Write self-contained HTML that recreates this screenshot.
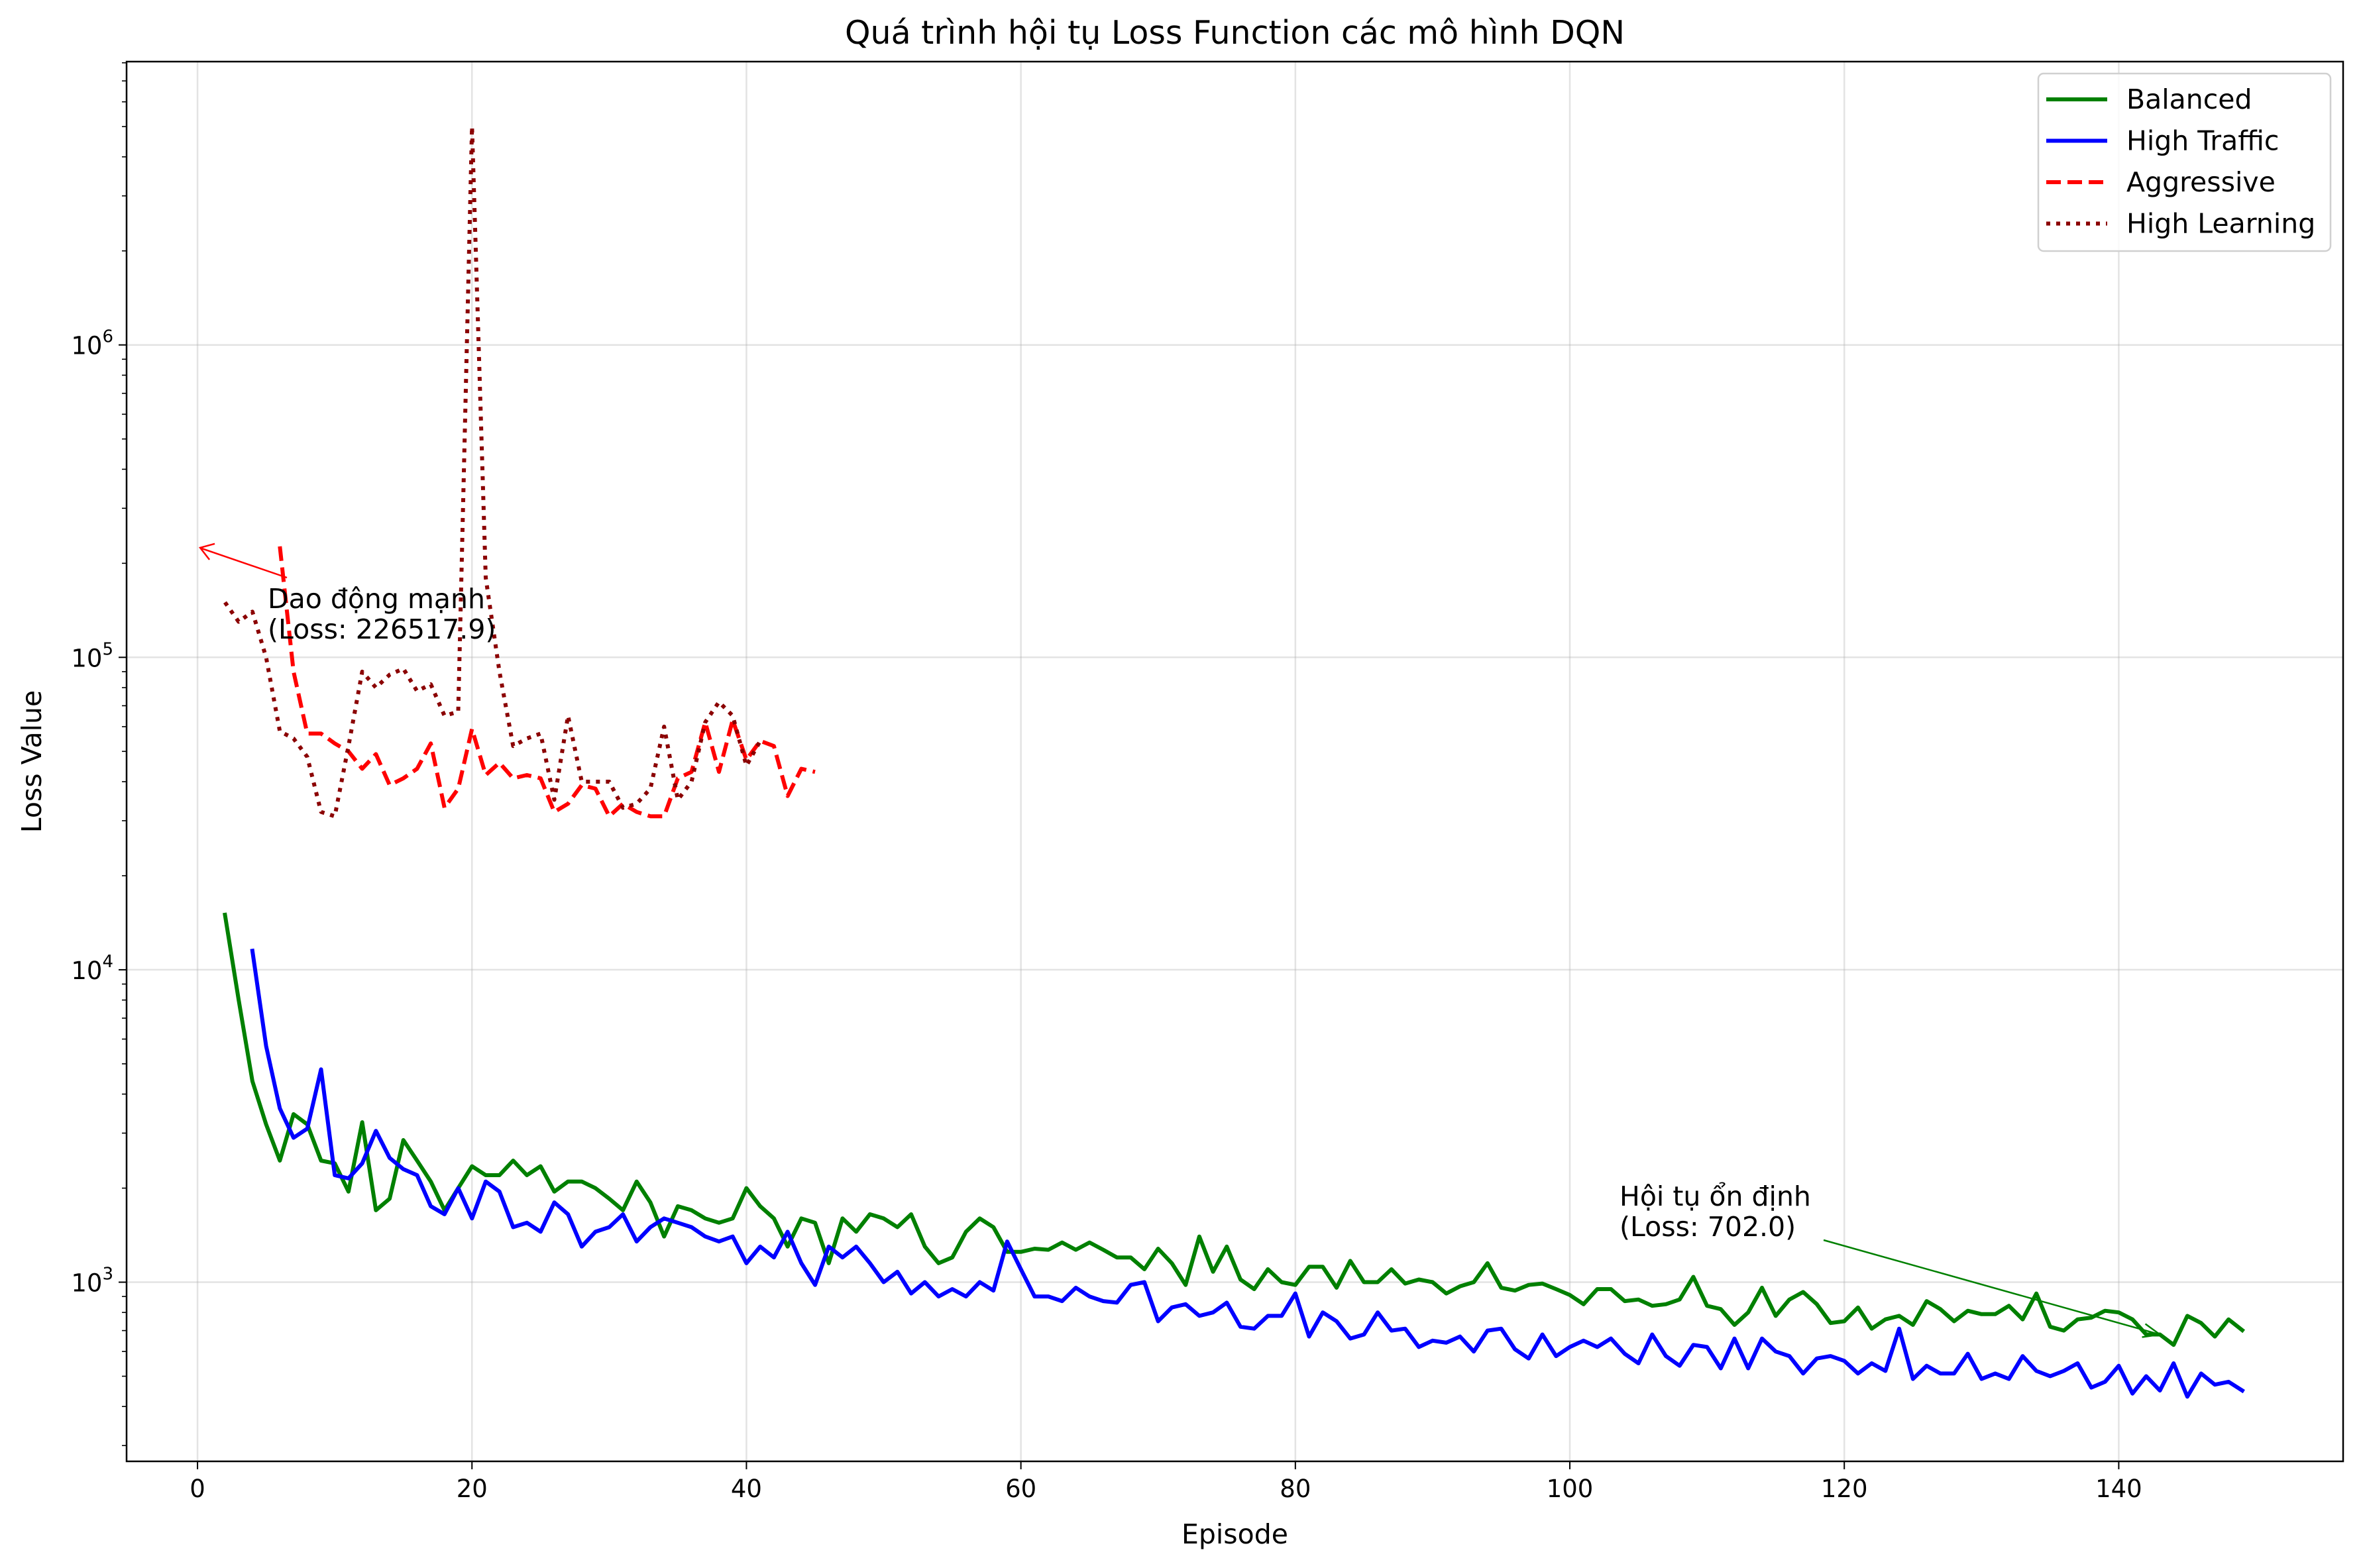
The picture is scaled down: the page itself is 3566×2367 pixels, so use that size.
<!DOCTYPE html>
<html><head><meta charset="utf-8"><style>
html,body{margin:0;padding:0;background:#fff}
svg{display:block;font-family:"DejaVu Sans","Liberation Sans",sans-serif}
</style></head><body>
<svg id="chart" width="3566" height="2367" viewBox="0 0 3566 2367" xmlns="http://www.w3.org/2000/svg">
<rect width="3566" height="2367" fill="#fff"/>
<g id="grid"></g><g id="series"></g><g id="axes"></g>
</svg>
<script>
const balancedStart = 2;
const balanced = [15000,8000,4400,3200,2450,3450,3200,2450,2400,1950,3250,1700,1850,2850,2450,2100,1700,2000,2350,2200,2200,2450,2200,2350,1950,2100,2100,2000,1850,1700,2100,1800,1400,1750,1700,1600,1550,1600,2000,1750,1600,1300,1600,1550,1150,1600,1450,1650,1600,1500,1650,1300,1150,1200,1450,1600,1500,1250,1250,1280,1270,1340,1270,1340,1270,1200,1200,1100,1280,1150,980,1400,1080,1300,1020,950,1100,1000,980,1120,1120,960,1170,1000,1000,1100,990,1020,1000,920,970,1000,1150,960,940,980,990,950,910,850,950,950,870,880,840,850,880,1040,840,820,730,800,960,780,880,930,850,740,750,830,710,760,780,730,870,820,750,810,790,790,840,760,920,720,700,760,770,810,800,760,680,680,630,780,740,670,760,702];
const trafficStart = 4;
const traffic = [11500,5700,3600,2900,3100,4800,2200,2150,2400,3050,2500,2300,2200,1750,1650,2000,1600,2100,1950,1500,1550,1450,1800,1650,1300,1450,1500,1650,1350,1500,1600,1550,1500,1400,1350,1400,1150,1300,1200,1450,1150,980,1300,1200,1300,1150,1000,1080,920,1000,900,950,900,1000,940,1350,1100,900,900,870,960,900,870,860,980,1000,750,830,850,780,800,860,720,710,780,780,920,670,800,750,660,680,800,700,710,620,650,640,670,600,700,710,610,570,680,580,620,650,620,660,590,550,680,580,540,630,620,530,660,530,660,600,580,510,570,580,560,510,550,520,710,490,540,510,510,590,490,510,490,580,520,500,520,550,460,480,540,440,500,450,550,430,510,470,480,450];
const aggressiveStart = 6;
const aggressive = [226518,90000,57000,57000,53000,50000,44000,49000,39000,41000,44000,53000,33000,38000,59000,42000,46000,41000,42000,41000,32000,34000,39000,38000,31000,34000,32000,31000,31000,41000,43000,62000,43000,63000,47000,54000,52000,36000,44000,43000];
const learningStart = 2;
const learning = [150000,130000,140000,100000,58000,55000,48000,32000,31000,52000,90000,80000,88000,92000,78000,82000,65000,67000,5000000,180000,90000,52000,55000,57000,35000,65000,40000,40000,40000,33000,34000,38000,60000,35000,40000,62000,72000,65000,45000,54000];
const xTicks = [0,20,40,60,80,100,120,140];
const yDecades = [3,4,5,6];

const L=191,R=3536,T=93,B=2206;
const XMIN=-5.17,XMAX=156.35,LMIN=Math.log10(267),LMAX=Math.log10(8.07e6);
const sx=v=>L+(v-XMIN)/(XMAX-XMIN)*(R-L);
const sy=v=>B-(Math.log10(v)-LMIN)/(LMAX-LMIN)*(B-T);
const NS="http://www.w3.org/2000/svg";
function mk(tag,attrs,parent){const e=document.createElementNS(NS,tag);for(const k in attrs)e.setAttribute(k,attrs[k]);parent.appendChild(e);return e;}
const grid=document.getElementById('grid'),ser=document.getElementById('series'),ax=document.getElementById('axes');

xTicks.forEach(t=>{
  const g=mk('line',{x1:sx(t),x2:sx(t),y1:T,y2:B,stroke:'#b0b0b0','stroke-opacity':0.35,'stroke-width':2.5},grid);
  
  
  const tk=mk('line',{x1:sx(t),x2:sx(t),y1:B,y2:B+12,stroke:'#000','stroke-width':2},ax);
  
  
  const tl=mk('text',{x:sx(t),y:B+54,'font-size':37,'text-anchor':'middle'},ax);
  tl.textContent=t;
  
  
});
yDecades.forEach(d=>{
  const y=sy(Math.pow(10,d));
  const g=mk('line',{x1:L,x2:R,y1:y,y2:y,stroke:'#b0b0b0','stroke-opacity':0.35,'stroke-width':2.5},grid);
  
  
  const tk=mk('line',{x1:L-12,x2:L,y1:y,y2:y,stroke:'#000','stroke-width':2},ax);
  
  
  const tl=mk('text',{x:L-20,y:y+14,'font-size':37,'text-anchor':'end'},ax);
  
  
  const a=mk('tspan',{},tl);a.textContent='10';
  const b=mk('tspan',{dy:-18,'font-size':26},tl);b.textContent=d;
});
for(let d=2;d<=6;d++){for(let m=2;m<=9;m++){const v=m*Math.pow(10,d);if(v<267||v>8.07e6)continue;const y=sy(v);
  const mt=mk('line',{x1:L-7,x2:L,y1:y,y2:y,stroke:'#000','stroke-width':1.6},ax);
  
  }}

function series(data,start,color,dash,name){
  const pts=data.map((v,i)=>sx(start+i).toFixed(1)+','+sy(v).toFixed(1)).join(' ');
  const p=mk('polyline',{points:pts,fill:'none',stroke:color,'stroke-width':6,'stroke-linejoin':'round','stroke-linecap':dash?'butt':'square'},ser);
  if(dash)p.setAttribute('stroke-dasharray',dash);
  
  
}
series(balanced,balancedStart,'#008000',null,'balanced-line');
series(traffic,trafficStart,'#0000ff',null,'high-traffic-line');
series(aggressive,aggressiveStart,'#ff0000','22 10','aggressive-line');
series(learning,learningStart,'#8b0000','6 9','high-learning-line');

const fr=mk('rect',{x:L,y:T,width:R-L,height:B-T,fill:'none',stroke:'#000','stroke-width':2.5},ax);


const ti=mk('text',{x:(L+R)/2,y:66,'font-size':49,'text-anchor':'middle'},ax);
ti.textContent='Quá trình hội tụ Loss Function các mô hình DQN';


const xl=mk('text',{x:(L+R)/2,y:2330,'font-size':41,'text-anchor':'middle'},ax);
xl.textContent='Episode';


const yl=mk('text',{x:62,y:(T+B)/2,'font-size':41,'text-anchor':'middle',transform:'rotate(-90 62 '+(T+B)/2+')'},ax);
yl.textContent='Loss Value';



const a1=mk('line',{x1:433,y1:872,x2:sx(0)+6,y2:sy(226518)+3,stroke:'#ff0000','stroke-width':2.5},ax);


const ah1=mk('path',{d:'M'+(sx(0)+26)+','+(sy(226518)-4)+' L'+(sx(0)+4)+','+(sy(226518)+2)+' L'+(sx(0)+18)+','+(sy(226518)+20),fill:'none',stroke:'#ff0000','stroke-width':2.5},ax);


const t1=mk('text',{x:404,y:918,'font-size':41},ax);


mk('tspan',{x:404},t1).textContent='Dao động mạnh';
mk('tspan',{x:404,dy:46},t1).textContent='(Loss: 226517.9)';
const ex=sx(143),ey=sy(680);
const a2=mk('line',{x1:2752,y1:1872,x2:ex,y2:ey,stroke:'#008000','stroke-width':2.5},ax);


const ah2=mk('path',{d:'M'+(ex-22)+','+(ey-16)+' L'+ex+','+ey+' L'+(ex-27)+','+(ey+4),fill:'none',stroke:'#008000','stroke-width':2.5},ax);


const t2=mk('text',{x:2444,y:1820,'font-size':41},ax);


mk('tspan',{x:2444},t2).textContent='Hội tụ ổn định';
mk('tspan',{x:2444,dy:46},t2).textContent='(Loss: 702.0)';

const lg=mk('g',{},ax);


mk('rect',{x:3076,y:111,width:441,height:268,rx:8,fill:'#fff','fill-opacity':0.8,stroke:'#d0d0d0','stroke-width':2.5},lg);
const legNames=['Balanced','High Traffic','Aggressive','High Learning'];
const legColors=['#008000','#0000ff','#ff0000','#8b0000'];
const legDash=[null,null,'22 10','6 9'];
legNames.forEach((n,i)=>{
  const y=150+i*62.5;
  const ln=mk('line',{x1:3088,x2:3180,y1:y,y2:y,stroke:legColors[i],'stroke-width':6},lg);
  if(legDash[i])ln.setAttribute('stroke-dasharray',legDash[i]);
  
  
  const tx=mk('text',{x:3209,y:y+14,'font-size':41},lg);
  tx.textContent=n;
  
  
});
</script>
</body></html>
